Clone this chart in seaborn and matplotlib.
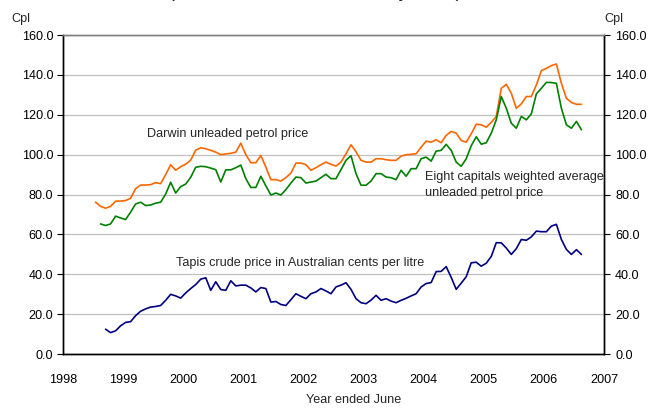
import numpy as np
import pandas as pd
import matplotlib
matplotlib.use("Agg")
import matplotlib.pyplot as plt
import seaborn as sns
from matplotlib.ticker import FormatStrFormatter

# data, monthly, cents per litre
months = pd.period_range("1998-07", "2006-08", freq="M")

darwin = [76.2, 74.1, 73.2, 74.1, 76.7, 76.8, 77.0, 78.2, 83.0, 84.8,
          84.8, 85.0, 86.0, 85.5, 90.0, 95.0, 92.2, 94.0, 95.3, 97.3,
          102.3, 103.5, 103.0, 102.2, 101.3, 100.0, 100.4, 100.7, 101.3, 105.8,
          100.0, 96.0, 96.0, 99.6, 93.8, 87.5, 87.5, 86.8, 88.5, 90.8,
          95.8, 95.8, 95.0, 92.2, 93.5, 95.0, 96.3, 95.2, 94.3, 96.3,
          100.5, 105.0, 101.5, 97.2, 96.3, 96.3, 98.0, 98.0, 97.5, 97.2,
          97.2, 99.3, 100.0, 100.2, 100.5, 103.8, 106.8, 106.3, 107.5, 106.0,
          109.7, 111.7, 110.8, 107.2, 106.3, 110.5, 115.3, 115.0, 113.8, 116.2,
          119.2, 133.3, 135.3, 130.8, 123.3, 125.5, 129.2, 129.2, 135.0, 142.2,
          143.3, 144.7, 145.5, 135.8, 128.3, 126.2, 125.3, 125.3]

# starts Aug 1998
capitals = [65.3, 64.5, 65.3, 69.2, 68.3, 67.5, 71.2, 75.3, 76.2,
            74.5, 74.8, 75.7, 76.2, 80.3, 86.2, 80.8, 84.0, 85.3, 88.7,
            93.7, 94.2, 94.0, 93.3, 92.5, 86.3, 92.4, 92.4, 93.5, 94.8,
            88.0, 83.6, 83.6, 89.2, 84.4, 79.8, 80.8, 79.8, 82.5, 85.8,
            88.8, 88.5, 85.8, 86.3, 86.8, 88.5, 90.2, 88.0, 88.0, 92.5,
            97.2, 99.5, 90.5, 84.7, 84.7, 86.8, 90.5, 90.5, 88.8, 88.5,
            87.5, 92.2, 89.2, 93.0, 93.0, 98.0, 98.8, 96.8, 101.8, 102.2,
            105.2, 102.2, 96.3, 94.2, 98.0, 104.5, 109.0, 105.3, 106.0, 110.8,
            117.5, 129.2, 123.3, 115.8, 113.3, 119.2, 117.5, 120.5, 130.5, 133.3,
            136.3, 136.2, 135.8, 123.3, 115.0, 113.3, 116.7, 112.5]

# starts Sep 1998
tapis = [12.5, 10.8, 11.7, 14.2, 15.9, 16.3, 19.3, 21.5,
         22.7, 23.6, 23.9, 24.4, 27.0, 30.0, 29.2, 28.1, 30.7, 32.9,
         34.9, 37.6, 38.3, 32.0, 36.3, 32.4, 32.0, 36.8, 34.2, 34.6,
         34.6, 33.2, 31.2, 33.4, 32.9, 26.1, 26.4, 24.9, 24.4, 27.3,
         30.3, 29.0, 27.8, 30.3, 31.2, 32.9, 31.7, 30.3, 33.7, 34.6,
         35.8, 32.5, 27.8, 25.8, 25.3, 27.1, 29.5, 27.0, 27.8, 26.6,
         25.8, 27.0, 28.0, 29.2, 30.3, 33.7, 35.4, 35.9, 41.4, 41.5,
         43.9, 38.5, 32.5, 35.6, 38.8, 45.8, 46.1, 44.1, 45.6, 49.0,
         55.9, 55.8, 53.2, 50.0, 52.9, 57.5, 57.1, 58.8, 61.7, 61.4,
         61.4, 64.2, 65.1, 57.5, 52.5, 50.0, 52.4, 50.0]

years = list(range(1998, 2008))
yticks = list(range(0, 161, 20))

t = np.asarray(months.year + (months.month - 0.5) / 12)

# plotting
sns.set_theme(style="white")
plt.rcParams["font.family"] = ["Liberation Sans", "DejaVu Sans"]
fs = 9.1

fig, ax = plt.subplots(figsize=(6.54, 4.08), dpi=100)
fig.subplots_adjust(left=0.0963, right=0.9235, top=0.914, bottom=0.132)

sns.lineplot(x=t, y=darwin, color="#FF6600", linewidth=1.2, ax=ax)
sns.lineplot(x=t[1:], y=capitals, color="#008000", linewidth=1.2, ax=ax)
sns.lineplot(x=t[2:], y=tapis, color="#000080", linewidth=1.2, ax=ax)

ax.set_xlim(1998, 2007)
ax.set_ylim(0, 160)
ax.set_xticks(years)
ax.set_yticks(yticks)
ax.yaxis.set_major_formatter(FormatStrFormatter("%.1f"))
ax.yaxis.grid(True, color="#c0c0c0", linewidth=0.9)
ax.set_axisbelow(True)
ax.tick_params(axis="x", length=0, pad=14, labelsize=fs, colors="black")
ax.tick_params(axis="y", direction="out", length=4, width=0.8, pad=3,
               labelsize=fs, colors="black", left=True)
ax.set_xlabel("")
ax.set_ylabel("")

ax2 = ax.twinx()
ax2.set_ylim(0, 160)
ax2.set_yticks(yticks)
ax2.yaxis.set_major_formatter(FormatStrFormatter("%.1f"))
ax2.tick_params(axis="y", direction="out", length=4, width=0.8, pad=4,
                labelsize=fs, colors="black", right=True)

for a in (ax, ax2):
    for s in ("left", "right", "bottom"):
        a.spines[s].set_color("black")
        a.spines[s].set_linewidth(1.0)
    a.spines["top"].set_color("#808080")
    a.spines["top"].set_linewidth(1.0)

ax.text(1999.40, 110.3, "Darwin unleaded petrol price", va="center", fontsize=fs)
ax.text(2004.02, 88.8, "Eight capitals weighted average", va="center", fontsize=fs)
ax.text(2004.02, 80.7, "unleaded petrol price", va="center", fontsize=fs)
ax.text(1999.88, 45.6, "Tapis crude price in Australian cents per litre",
        va="center", fontsize=fs)

fig.text(0.018, 1 - 19 / 408, "Cpl", va="center", fontsize=fs)
fig.text(0.924, 1 - 19 / 408, "Cpl", va="center", fontsize=fs)
fig.text(0.54, 1 - 400 / 408, "Year ended June", ha="center", va="center", fontsize=fs)
fig.text(0.482, 1.008, "(In nominal terms monthly data)", ha="center",
         va="baseline", fontsize=15)

fig.savefig("out.png", dpi=100)
